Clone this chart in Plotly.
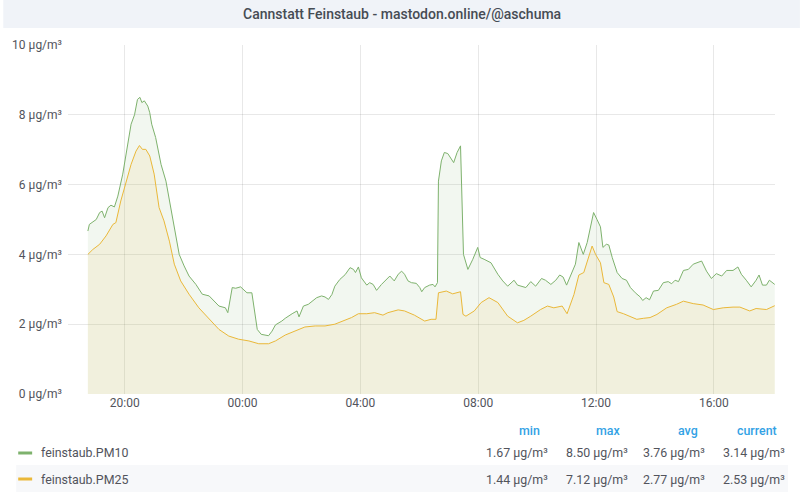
import plotly.graph_objects as go
from datetime import datetime, timedelta

TITLE = "Cannstatt Feinstaub - mastodon.online/@aschuma"
UNIT = " µg/m³"
START_DAY = datetime(2022, 11, 20)
X_RANGE = ["2022-11-20 18:04:30", "2022-11-21 18:04:30"]
Y_TICKS = [0, 2, 4, 6, 8, 10]

PM10_NAME = "feinstaub.PM10"
PM10_TIMES = ["18:45", "18:48", "19:02", "19:09", "19:14", "19:19", "19:26", "19:32", "19:39", "19:46",
              "19:56", "20:06", "20:13", "20:20", "20:26", "20:31", "20:35", "20:40", "20:47", "20:51",
              "20:55", "21:03", "21:14", "21:24", "21:31", "21:41", "21:51", "22:01", "22:11", "22:25",
              "22:38", "22:52", "23:02", "23:12", "23:25", "23:30", "23:39", "23:46", "23:56", "00:09",
              "00:19", "00:25", "00:30", "00:38", "00:53", "01:00", "01:07", "01:20", "01:27", "01:41",
              "01:51", "01:55", "02:04", "02:14", "02:21", "02:31", "02:41", "02:48", "02:55", "03:02",
              "03:08", "03:18", "03:29", "03:39", "03:46", "03:50", "03:56", "04:02", "04:13", "04:19",
              "04:26", "04:33", "04:43", "04:50", "05:00", "05:09", "05:17", "05:24", "05:30", "05:37",
              "05:44", "05:54", "06:01", "06:05", "06:11", "06:21", "06:28", "06:32", "06:37", "06:39",
              "06:45", "06:51", "06:58", "07:10", "07:17", "07:24", "07:27", "07:30", "07:39", "07:49",
              "07:59", "08:04", "08:12", "08:26", "08:40", "08:50", "09:00", "09:07", "09:13", "09:20",
              "09:30", "09:37", "09:47", "09:57", "10:09", "10:17", "10:28", "10:38", "10:46", "10:53",
              "11:00", "11:08", "11:18", "11:25", "11:34", "11:42", "11:49", "11:55", "12:02", "12:09",
              "12:14", "12:21", "12:26", "12:33", "12:43", "12:53", "13:02", "13:10", "13:20", "13:30",
              "13:35", "13:42", "13:49", "13:57", "14:07", "14:17", "14:27", "14:34", "14:41", "14:48",
              "14:58", "15:08", "15:18", "15:35", "15:45", "15:55", "16:05", "16:16", "16:26", "16:39",
              "16:49", "16:56", "17:06", "17:16", "17:26", "17:32", "17:39", "17:47", "17:53", "18:04"]
PM10_VALUES = [4.67, 4.86, 5.00, 5.20, 5.24, 5.05, 5.34, 5.41, 5.36, 5.67,
               6.30, 7.10, 7.73, 8.00, 8.44, 8.50, 8.35, 8.40, 8.25, 8.06,
               7.73, 7.35, 6.58, 6.10, 5.53, 4.77, 4.00, 3.67, 3.38, 3.14,
               2.86, 2.81, 2.66, 2.52, 2.47, 2.33, 3.05, 3.03, 3.07, 2.90,
               2.90, 2.28, 1.85, 1.71, 1.67, 1.80, 1.98, 2.09, 2.17, 2.30,
               2.38, 2.21, 2.52, 2.57, 2.66, 2.76, 2.81, 2.78, 2.71, 2.85,
               3.09, 3.28, 3.42, 3.62, 3.57, 3.48, 3.64, 3.33, 3.12, 3.19,
               3.14, 2.97, 3.14, 3.24, 3.38, 3.24, 3.43, 3.52, 3.43, 3.24,
               3.19, 3.17, 3.05, 2.93, 3.05, 3.12, 3.14, 3.07, 3.19, 6.10,
               6.68, 6.92, 6.89, 6.63, 6.92, 7.11, 5.64, 4.00, 3.57, 3.86,
               4.20, 3.91, 3.86, 3.76, 3.43, 3.24, 3.09, 3.19, 3.26, 3.12,
               3.09, 3.05, 3.22, 3.09, 3.31, 3.26, 3.14, 3.26, 3.41, 3.35,
               3.12, 3.38, 3.72, 4.34, 4.00, 4.34, 4.77, 5.20, 5.00, 4.79,
               4.20, 4.29, 4.27, 3.91, 3.48, 3.31, 3.26, 3.05, 2.90, 2.78,
               2.68, 2.76, 2.70, 2.95, 2.97, 3.19, 3.22, 3.16, 3.26, 3.22,
               3.54, 3.57, 3.72, 3.81, 3.52, 3.31, 3.45, 3.38, 3.54, 3.54,
               3.64, 3.43, 3.26, 3.07, 3.26, 3.41, 3.12, 3.12, 3.26, 3.14]

PM25_NAME = "feinstaub.PM25"
PM25_TIMES = ["18:45", "18:55", "19:09", "19:22", "19:36", "19:42", "19:52", "20:03", "20:13", "20:23",
              "20:30", "20:36", "20:43", "20:51", "21:00", "21:10", "21:20", "21:31", "21:41", "21:54",
              "22:11", "22:31", "22:52", "23:12", "23:32", "23:52", "00:13", "00:33", "00:53", "01:07",
              "01:27", "01:47", "02:07", "02:28", "02:48", "03:08", "03:29", "03:42", "03:56", "04:13",
              "04:29", "04:46", "04:56", "05:17", "05:30", "05:50", "06:11", "06:24", "06:34", "06:39",
              "06:55", "07:08", "07:24", "07:29", "07:35", "07:52", "08:06", "08:22", "08:40", "09:00",
              "09:20", "09:33", "09:47", "10:07", "10:21", "10:34", "10:51", "11:01", "11:15", "11:25",
              "11:35", "11:45", "11:52", "11:59", "12:09", "12:16", "12:26", "12:36", "12:43", "12:56",
              "13:10", "13:23", "13:37", "13:50", "14:04", "14:24", "14:44", "14:58", "15:18", "15:38",
              "15:59", "16:19", "16:39", "16:53", "17:13", "17:26", "17:47", "18:04"]
PM25_VALUES = [4.00, 4.14, 4.29, 4.53, 4.86, 4.91, 5.53, 6.10, 6.58, 6.96,
               7.12, 7.01, 7.01, 6.82, 6.30, 5.34, 4.96, 4.38, 3.72, 3.24,
               2.86, 2.47, 2.14, 1.85, 1.66, 1.57, 1.52, 1.44, 1.44, 1.52,
               1.69, 1.80, 1.92, 1.95, 1.95, 2.00, 2.11, 2.19, 2.30, 2.30,
               2.33, 2.26, 2.33, 2.41, 2.38, 2.26, 2.09, 2.14, 2.14, 2.90,
               2.95, 2.87, 2.93, 2.28, 2.23, 2.38, 2.62, 2.76, 2.62, 2.23,
               2.04, 2.11, 2.23, 2.42, 2.52, 2.47, 2.52, 2.30, 2.85, 3.41,
               3.48, 3.91, 4.24, 4.00, 3.76, 3.19, 3.14, 2.78, 2.36, 2.30,
               2.21, 2.14, 2.17, 2.19, 2.28, 2.47, 2.57, 2.66, 2.59, 2.55,
               2.42, 2.47, 2.49, 2.49, 2.38, 2.45, 2.42, 2.53]

STAT_HEADERS = ["min", "max", "avg", "current"]
PM10_STATS = ["1.67 µg/m³", "8.50 µg/m³", "3.76 µg/m³", "3.14 µg/m³"]
PM25_STATS = ["1.44 µg/m³", "7.12 µg/m³", "2.77 µg/m³", "2.53 µg/m³"]

GREEN = "#7EB26D"
YELLOW = "#EAB839"
TEXT = "#52545c"
BLUE = "#33a2e5"
FONT = "Roboto"
LEGEND_SIZE = 12.4


def to_datetimes(times):
    day = START_DAY
    out, prev = [], None
    for t in times:
        h, m = map(int, t.split(":"))
        if prev is not None and (h, m) < prev:
            day += timedelta(days=1)
        prev = (h, m)
        out.append(day + timedelta(hours=h, minutes=m))
    return out


# layout geometry (pixels)
W, H = 800, 500
L, R, T, B = 65, 775, 45, 394


def px(x):
    return (x - L) / (R - L)


def py(y):
    return (B - y) / (B - T)


fig = go.Figure()
fig.add_trace(go.Scatter(
    x=to_datetimes(PM10_TIMES), y=PM10_VALUES, name=PM10_NAME, mode="lines",
    line=dict(color=GREEN, width=1), fill="tozeroy", fillcolor="rgba(126,178,109,0.10)",
    hoverinfo="skip"))
fig.add_trace(go.Scatter(
    x=to_datetimes(PM25_TIMES), y=PM25_VALUES, name=PM25_NAME, mode="lines",
    line=dict(color=YELLOW, width=1), fill="tozeroy", fillcolor="rgba(234,184,57,0.10)",
    hoverinfo="skip"))

shapes = [
    # title bar
    dict(type="rect", xref="paper", yref="paper", x0=px(0), x1=px(W), y0=py(28), y1=py(0),
         fillcolor="#f0f3f8", line=dict(width=0), layer="below"),
    # legend second row background
    dict(type="rect", xref="paper", yref="paper", x0=px(13), x1=px(788), y0=py(492), y1=py(465),
         fillcolor="#f7f8fa", line=dict(width=0), layer="below"),
    # legend swatches
    dict(type="rect", xref="paper", yref="paper", x0=px(15), x1=px(29), y0=py(454.5), y1=py(451.5),
         fillcolor=GREEN, line=dict(width=0)),
    dict(type="rect", xref="paper", yref="paper", x0=px(15), x1=px(29), y0=py(480.5), y1=py(477.5),
         fillcolor=YELLOW, line=dict(width=0)),
]

annotations = [
    dict(text=TITLE, xref="paper", yref="paper", x=px(400), y=py(14), xanchor="center",
         yanchor="middle", showarrow=False,
         font=dict(family=FONT, size=14, color="#464c54", weight=500)),
    dict(text=PM10_NAME, xref="paper", yref="paper", x=px(36), y=py(453), xanchor="left",
         yanchor="middle", showarrow=False, font=dict(family=FONT, size=LEGEND_SIZE, color=TEXT)),
    dict(text=PM25_NAME, xref="paper", yref="paper", x=px(36), y=py(479), xanchor="left",
         yanchor="middle", showarrow=False, font=dict(family=FONT, size=LEGEND_SIZE, color=TEXT)),
]
header_right = [541, 621, 700, 779]
value_right = [549, 629, 707, 787]
for hdr, xr in zip(STAT_HEADERS, header_right):
    annotations.append(dict(text=hdr, xref="paper", yref="paper", x=px(xr), y=py(430),
                            xanchor="right", yanchor="middle", showarrow=False,
                            font=dict(family=FONT, size=LEGEND_SIZE, color=BLUE, weight=500)))
for row_y, stats in ((453, PM10_STATS), (479, PM25_STATS)):
    for s, xr in zip(stats, value_right):
        annotations.append(dict(text=s, xref="paper", yref="paper", x=px(xr), y=py(row_y),
                                xanchor="right", yanchor="middle", showarrow=False,
                                font=dict(family=FONT, size=LEGEND_SIZE, color=TEXT)))

fig.update_layout(
    width=W, height=H,
    margin=dict(l=L, r=W - R, t=T, b=H - B, pad=0),
    paper_bgcolor="white", plot_bgcolor="white",
    showlegend=False,
    font=dict(family=FONT, size=12, color=TEXT),
    shapes=shapes, annotations=annotations,
    xaxis=dict(type="date", range=X_RANGE, tickformat="%H:%M", dtick=4 * 3600 * 1000,
               tick0="2022-11-20 00:00", showgrid=True, gridcolor="rgba(0,0,0,0.09)",
               gridwidth=1, zeroline=False, showline=False, ticks="",
               tickfont=dict(family=FONT, size=12, color=TEXT), fixedrange=True),
    yaxis=dict(range=[0, 10], tickvals=Y_TICKS, ticktext=[f"{v}{UNIT}" for v in Y_TICKS],
               showgrid=True, gridcolor="rgba(0,0,0,0.09)", gridwidth=1, zeroline=False,
               showline=False, ticks="", ticklabelstandoff=5,
               tickfont=dict(family=FONT, size=12, color=TEXT), fixedrange=True),
)

fig.write_html("out.html", config={"displayModeBar": False})

# remove the browser's default page margin so the 800x500 figure fills the window
with open("out.html", encoding="utf-8") as f:
    html = f.read()
html = html.replace("<head>", "<head><style>html,body{margin:0;padding:0;overflow:hidden;}</style>", 1)
with open("out.html", "w", encoding="utf-8") as f:
    f.write(html)
